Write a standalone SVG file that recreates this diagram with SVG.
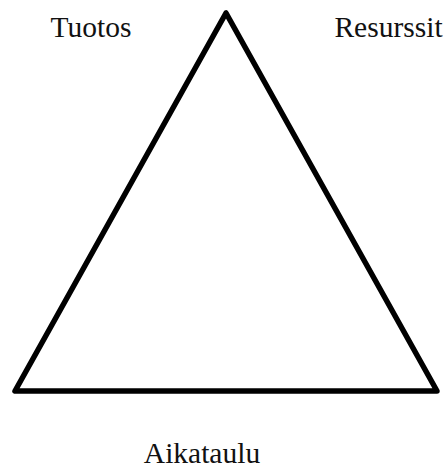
<svg xmlns="http://www.w3.org/2000/svg" width="448" height="470" viewBox="0 0 448 470">
<style>
.lbl{font-family:"Liberation Serif","Times New Roman",serif;font-size:29.5px;fill:#111;text-anchor:middle}
.edge{fill:none;stroke:#000;stroke-width:5.5;stroke-linejoin:round;stroke-linecap:round}
</style>
<rect width="448" height="470" fill="#fff"/>
<g id="connectors">
<polygon class="edge" points="226,13 15,391 437,391"/>
</g>
<g id="tuotos"><text class="lbl" x="91" y="37">Tuotos</text></g>
<g id="resurssit"><text class="lbl" x="388.5" y="37">Resurssit</text></g>
<g id="aikataulu"><text class="lbl" x="202" y="463">Aikataulu</text></g>
</svg>
